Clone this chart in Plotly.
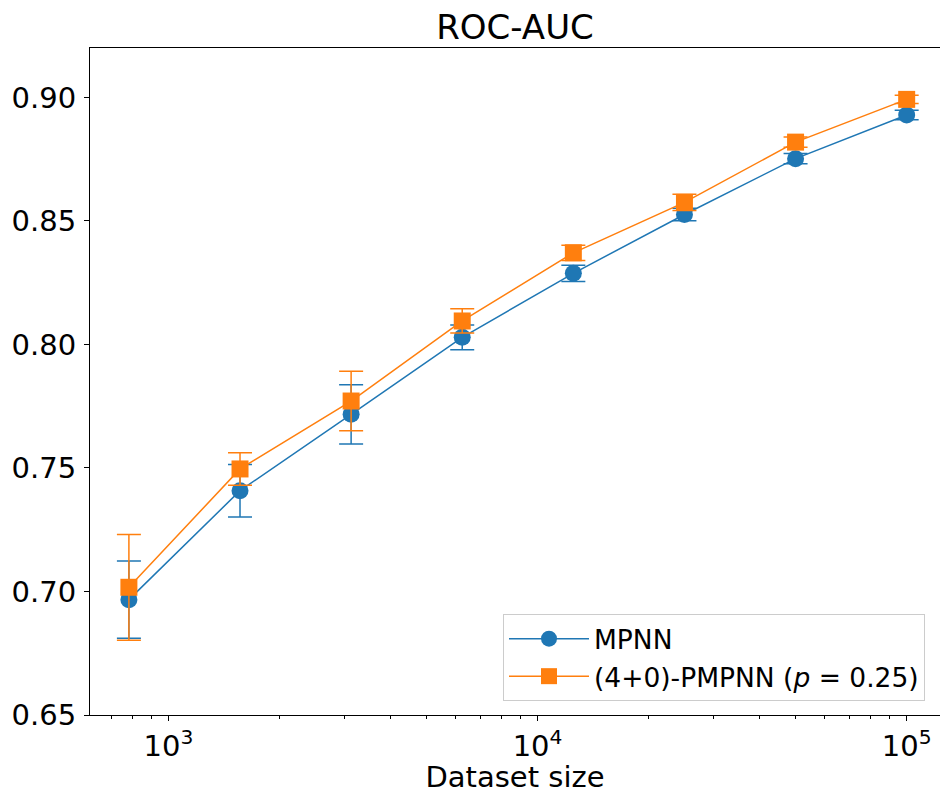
import plotly.graph_objects as go

# Dataset sizes (halving from 100k) and ROC-AUC mean / std for each model
dataset_size = [781.25, 1562.5, 3125, 6250, 12500, 25000, 50000, 100000]

mpnn_auc = [0.6967, 0.7408, 0.7717, 0.8029, 0.8288, 0.8526, 0.8752, 0.8929]
mpnn_err = [0.0156, 0.0106, 0.0120, 0.0050, 0.0033, 0.0025, 0.0021, 0.0019]

pmpnn_auc = [0.7017, 0.7496, 0.7771, 0.8095, 0.8371, 0.8575, 0.8819, 0.8992]
pmpnn_err = [0.0214, 0.0066, 0.0120, 0.0049, 0.0031, 0.0033, 0.0021, 0.0017]

x_ticks = [1000, 10000, 100000]
x_tick_text = ["10<sup>3</sup>", "10<sup>4</sup>", "10<sup>5</sup>"]
y_ticks = [0.65, 0.70, 0.75, 0.80, 0.85, 0.90]

BLUE = "#1f77b4"
ORANGE = "#ff7f0e"
FONT = "DejaVu Sans"

# minor tick positions for the log axis (2..9 x 10^k)
minor_vals = [m * 10 ** k for k in range(2, 6) for m in range(2, 10)]

fig = go.Figure()

fig.add_trace(go.Scatter(
    x=dataset_size, y=mpnn_auc, name="MPNN",
    mode="lines+markers",
    line=dict(color=BLUE, width=1.5),
    marker=dict(symbol="circle", size=17, color=BLUE),
    error_y=dict(type="data", array=mpnn_err, visible=True,
                 color=BLUE, thickness=1.5, width=12),
))

fig.add_trace(go.Scatter(
    x=dataset_size, y=pmpnn_auc, name="(4+0)-PMPNN (<i>p</i> = 0.25)",
    mode="lines+markers",
    line=dict(color=ORANGE, width=1.5),
    marker=dict(symbol="square", size=17, color=ORANGE),
    error_y=dict(type="data", array=pmpnn_err, visible=True,
                 color=ORANGE, thickness=1.5, width=12),
))

fig.update_layout(
    width=940, height=794,
    margin=dict(l=90, r=0, t=48, b=79),
    paper_bgcolor="white", plot_bgcolor="white",
    font=dict(family=FONT, size=29, color="black"),
    title=dict(text="ROC-AUC", font=dict(size=34, family=FONT),
               x=0.5, xanchor="center", xref="paper",
               y=1, yanchor="bottom", yref="paper", pad=dict(b=9)),
    showlegend=True,
    legend=dict(
        x=(925 - 90) / 850, y=0.021, xanchor="right", yanchor="bottom",
        bgcolor="rgba(255,255,255,0.8)", bordercolor="#cccccc", borderwidth=1,
        font=dict(size=26.5, family=FONT), itemwidth=80,
    ),
)

fig.update_xaxes(
    type="log",
    range=[2.7874, 5.0903],
    tickmode="array", tickvals=x_ticks, ticktext=x_tick_text,
    showgrid=False, zeroline=False,
    showline=True, linecolor="black", linewidth=1.1, mirror=True,
    ticks="outside", ticklen=5, tickwidth=1.1, tickcolor="black",
    minor=dict(tickmode="array", tickvals=minor_vals, ticks="outside",
               ticklen=3, tickwidth=0.9, tickcolor="black", showgrid=False),
    tickfont=dict(size=29),
    title=dict(text="Dataset size", font=dict(size=29), standoff=4),
)

fig.update_yaxes(
    range=[0.65, 0.92],
    tickvals=y_ticks, tickformat=".2f",
    showgrid=False, zeroline=False,
    showline=True, linecolor="black", linewidth=1.1, mirror=False,
    ticks="outside", ticklen=5, tickwidth=1.1, tickcolor="black",
    ticklabelstandoff=2,
    tickfont=dict(size=29),
)

fig.write_html("out.html")
